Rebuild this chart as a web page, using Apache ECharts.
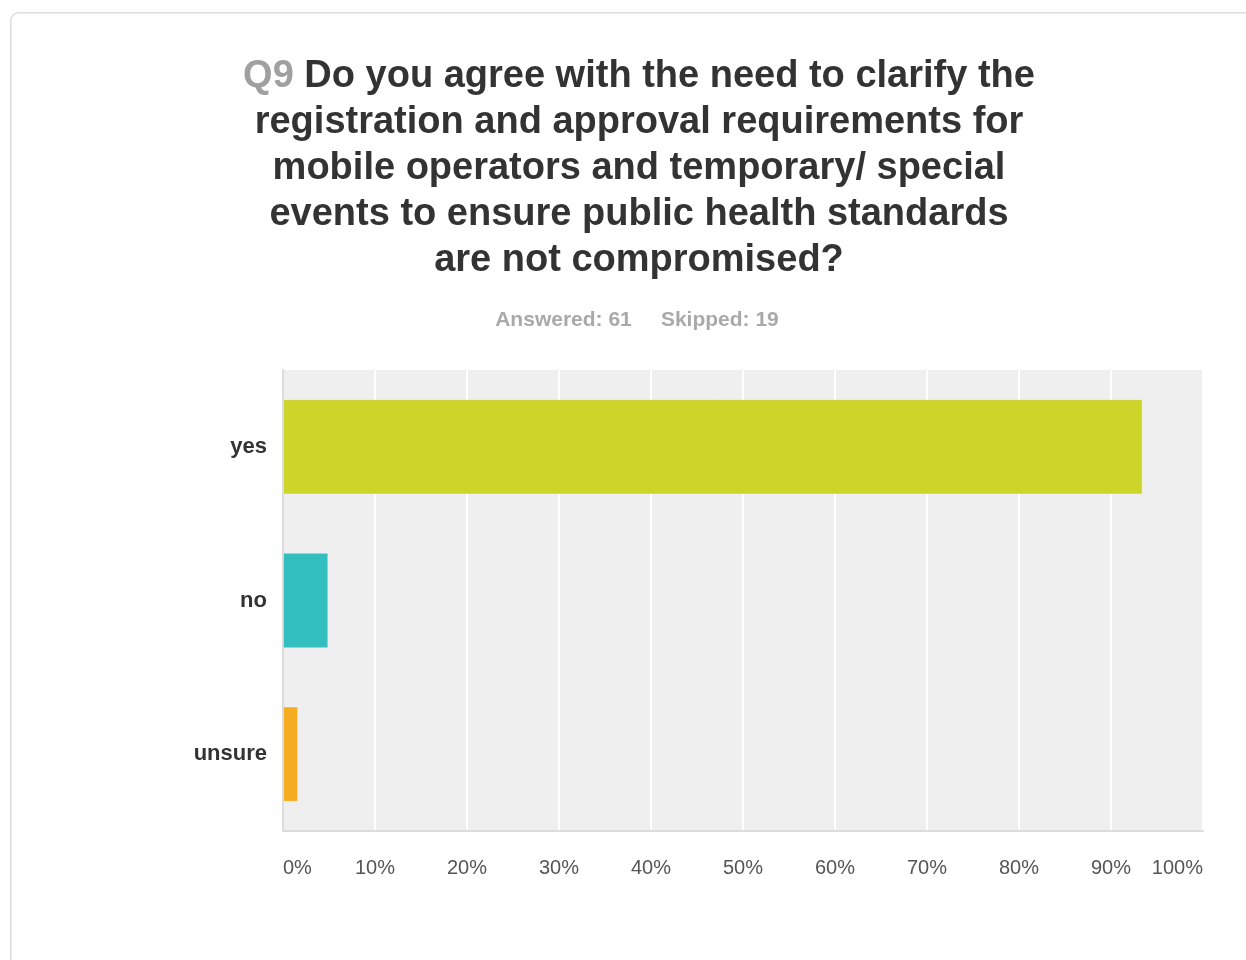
<!DOCTYPE html>
<html>
<head>
<meta charset="utf-8">
<style>
  html, body { margin: 0; padding: 0; background: #ffffff; }
  #chart { width: 1246px; height: 960px; }
</style>
<script src="https://cdn.jsdelivr.net/npm/echarts@6/dist/echarts.min.js"></script>
</head>
<body>
<div id="chart"></div>
<script>
// Survey responses for Q9 (share of respondents, %)
const categories = ['yes', 'no', 'unsure'];
const shares = [93.44, 4.92, 1.64];
const barColors = ['#cdd42a', '#33bfbf', '#f5ac20'];
const answered = 61;
const skipped = 19;

const FONT = 'Liberation Sans, Arial, Helvetica, sans-serif';

const chart = echarts.init(document.getElementById('chart'));

chart.setOption({
  animation: false,
  backgroundColor: '#ffffff',
  graphic: [{
    type: 'rect',
    left: 10,
    top: 12,
    shape: { width: 1260, height: 980, r: 8 },
    style: { fill: '#ffffff', stroke: '#dcdcdc', lineWidth: 1.5 },
    z: -10
  }],
  title: [{
    text: '{q|Q9} Do you agree with the need to clarify the\nregistration and approval requirements for\nmobile operators and temporary/ special\nevents to ensure public health standards\nare not compromised?',
    left: 634,
    top: 49,
    textAlign: 'center',
    textStyle: {
      fontFamily: FONT,
      fontSize: 38,
      fontWeight: 'bold',
      color: '#333333',
      lineHeight: 46,
      rich: {
        q: { color: '#a0a0a0', fontSize: 38, fontWeight: 'bold', fontFamily: FONT, lineHeight: 46 }
      }
    }
  }, {
    text: 'Answered: ' + answered + '     Skipped: ' + skipped,
    left: 632,
    top: 305,
    textAlign: 'center',
    textStyle: {
      fontFamily: FONT,
      fontSize: 21,
      fontWeight: 'bold',
      color: '#a9a9a9'
    }
  }],
  grid: {
    left: 283,
    right: 1246 - 1203,
    top: 370,
    bottom: 960 - 831,
    show: true,
    backgroundColor: '#efefef',
    borderWidth: 0
  },
  xAxis: {
    type: 'value',
    min: 0,
    max: 100,
    interval: 10,
    axisLine: { show: true, lineStyle: { color: '#dcdcdc', width: 2 } },
    axisTick: { show: false },
    splitLine: { show: true, lineStyle: { color: '#ffffff', width: 2 } },
    axisLabel: {
      formatter: '{value}%',
      margin: 27,
      color: '#555555',
      fontSize: 20,
      fontFamily: FONT,
      alignMinLabel: 'left',
      alignMaxLabel: 'right'
    }
  },
  yAxis: {
    type: 'category',
    data: categories,
    inverse: true,
    axisLine: { show: true, lineStyle: { color: '#dcdcdc', width: 2 } },
    axisTick: { show: false },
    splitLine: { show: false },
    axisLabel: {
      margin: 16,
      color: '#333333',
      fontSize: 22,
      fontWeight: 'bold',
      fontFamily: FONT
    }
  },
  series: [{
    type: 'bar',
    barWidth: '62%',
    data: shares.map((v, i) => ({ value: v, itemStyle: { color: barColors[i] } })),
    itemStyle: { borderColor: 'rgba(255,255,255,0.35)', borderWidth: 1 },
    silent: true
  }]
});
</script>
</body>
</html>
